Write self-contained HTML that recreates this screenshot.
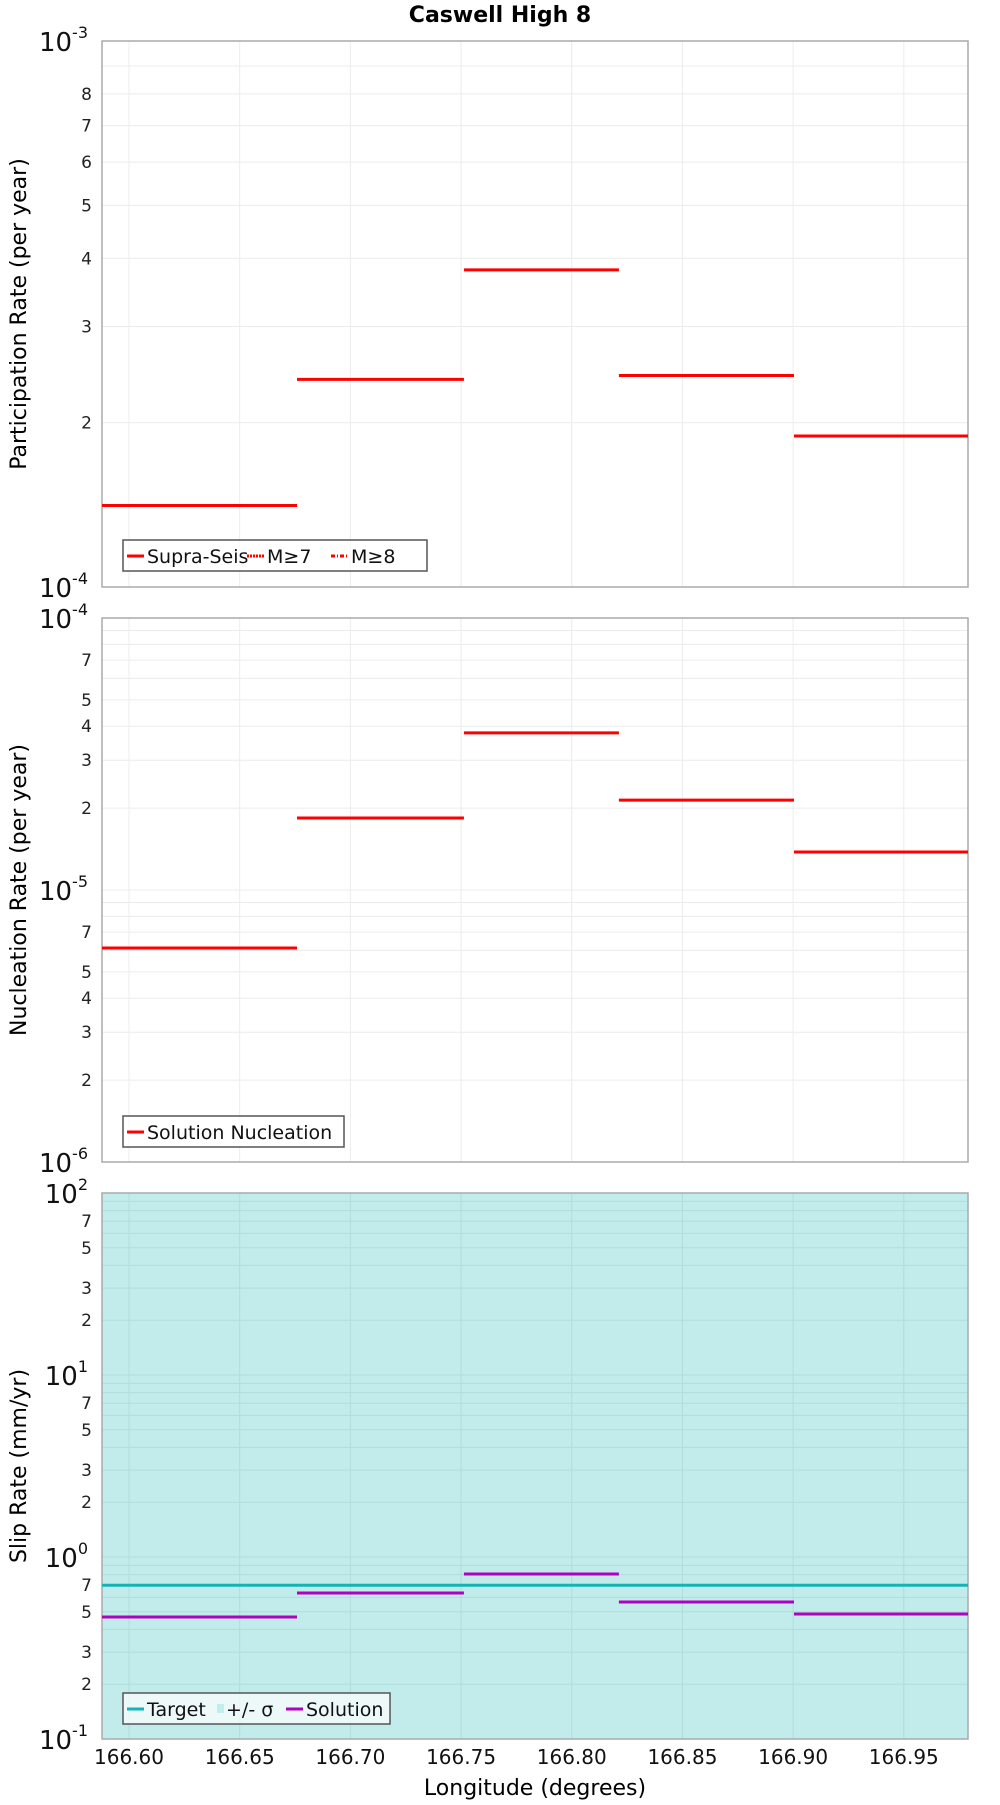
<!DOCTYPE html>
<html><head><meta charset="utf-8"><style>
body{margin:0;background:#fff;}
svg text{font-family:"DejaVu Sans","Liberation Sans",sans-serif;}
</style></head><body>
<svg id="chart" width="1000" height="1800" xmlns="http://www.w3.org/2000/svg"></svg>
<script>
const segEdges = [166.5878, 166.6759, 166.7513, 166.8213, 166.9004, 166.979];
const xTicks = [166.60, 166.65, 166.70, 166.75, 166.80, 166.85, 166.90, 166.95];
const partRates = [1.41e-4, 2.40e-4, 3.81e-4, 2.44e-4, 1.89e-4];
const nuclRates = [6.12e-6, 1.84e-5, 3.78e-5, 2.14e-5, 1.38e-5];
const slipSolution = [0.468, 0.634, 0.807, 0.566, 0.486];
const slipTarget = 0.70;

const NS = "http://www.w3.org/2000/svg";
const svg = document.getElementById('chart');
function mk(tag, attrs, parent){const e=document.createElementNS(NS,tag);for(const k in attrs)e.setAttribute(k,attrs[k]);(parent||svg).appendChild(e);return e;}
const L=102,R=968;
const xMin=segEdges[0], xMax=segEdges[segEdges.length-1];
function xs(v){return L+(v-xMin)/(xMax-xMin)*(R-L);}

const t=mk('text',{x:500,y:22,'text-anchor':'middle','font-size':22,'font-weight':'bold'});


t.textContent='Caswell High 8';

function panel(opt){
  const g=mk('g',{});
  
  
  const T=opt.top,B=opt.bottom,lo=opt.lo,hi=opt.hi;
  const ys=v=>B-(Math.log10(v)-lo)/(hi-lo)*(B-T);
  mk('rect',{x:L,y:T,width:R-L,height:B-T,fill:opt.bg||'#fff'},g);
  // grid
  for(let d=lo;d<hi;d++){for(let m=1;m<=9;m++){const v=m*Math.pow(10,d);const y=ys(v);
    if(y<T-0.5)continue;
    mk('line',{x1:L,x2:R,y1:y,y2:y,stroke:opt.grid,'stroke-width':1},g);
    if(m>1&&opt.minorLabels.includes(m)){const tx=mk('text',{x:L-10,y:y+6,'text-anchor':'end','font-size':17,fill:'#222'},g);
      
      
      tx.textContent=m;}
  }}
  for(let d=lo;d<=hi;d++){const y=ys(Math.pow(10,d));
    const tx=mk('text',{x:L-14,y:y+10,'text-anchor':'end','font-size':26,fill:'#111'},g);
    
    
    tx.textContent='10';
    const sp=mk('tspan',{dy:-13,'font-size':16},tx);sp.textContent=String(d);
  }
  xTicks.forEach(v=>{const x=xs(v);mk('line',{x1:x,x2:x,y1:T,y2:B,stroke:opt.grid,'stroke-width':1},g);});
  mk('rect',{x:L,y:T,width:R-L,height:B-T,fill:'none',stroke:'#aaa','stroke-width':1.5},g);
  const yt=mk('text',{x:0,y:0,'text-anchor':'middle','font-size':22,transform:`translate(26,${(T+B)/2}) rotate(-90)`},g);
  
  
  yt.textContent=opt.ytitle;
  if(opt.target!==undefined){const y=ys(opt.target);
    const ln=mk('line',{x1:L,x2:R,y1:y,y2:y,stroke:'#14b4b4','stroke-width':3},g);
    
    }
  opt.values.forEach((v,i)=>{const y=ys(v);
    const ln=mk('line',{x1:xs(segEdges[i]),x2:xs(segEdges[i+1]),y1:y,y2:y,stroke:opt.color,'stroke-width':3},g);
    
    });
  // legend
  const lg=mk('g',{},g);
  
  
  const ly=opt.legY;
  mk('rect',{x:123,y:ly,width:opt.legW,height:31,fill:'#fff','fill-opacity':0.7,stroke:'#555','stroke-width':1.5},lg);
  let x=127;
  opt.legend.forEach(it=>{
    if(it.kind==='box')mk('rect',{x:x,y:ly+11,width:7,height:9,fill:it.color},lg);
    else mk('line',{x1:x,x2:x+17,y1:ly+16,y2:ly+16,stroke:it.color,'stroke-width':3,'stroke-dasharray':it.dash||'none'},lg);
    x+=(it.kind==='box'?9:20);
    const tx=mk('text',{x:x,y:ly+23,'font-size':19,fill:'#111'},lg);
    
    
    tx.textContent=it.label;
    x+=it.w;
  });
}
panel({name:'participation-panel',top:41,bottom:587,lo:-4,hi:-3,grid:'#ececec',minorLabels:[2,3,4,5,6,7,8],
  ytitle:'Participation Rate (per year)',values:partRates,color:'#ff0000',legY:540,legW:304,
  legend:[{label:'Supra-Seis',color:'#f00',w:100},{label:'M≥7',color:'#f00',dash:'2,1',w:64},{label:'M≥8',color:'#f00',dash:'4,2,1,2',w:50}]});
panel({name:'nucleation-panel',top:618,bottom:1162,lo:-6,hi:-4,grid:'#ececec',minorLabels:[2,3,4,5,7],
  ytitle:'Nucleation Rate (per year)',values:nuclRates,color:'#ff0000',legY:1116,legW:221,
  legend:[{label:'Solution Nucleation',color:'#f00',w:200}]});
panel({name:'slip-rate-panel',top:1193,bottom:1739,lo:-1,hi:2,grid:'#b0dcda',bg:'#c2eceb',minorLabels:[2,3,5,7],
  ytitle:'Slip Rate (mm/yr)',values:slipSolution,color:'#b000c0',target:slipTarget,legY:1693,legW:267,
  legend:[{label:'Target',color:'#14b4b4',w:70},{label:'+/- σ',kind:'box',color:'#bfeeee',w:60},{label:'Solution',color:'#b000c0',w:80}]});
xTicks.forEach(v=>{const tx=mk('text',{x:xs(v),y:1764,'text-anchor':'middle','font-size':20,fill:'#111'});
  
  
  tx.textContent=v.toFixed(2);});
const xt=mk('text',{x:535,y:1795,'text-anchor':'middle','font-size':22});


xt.textContent='Longitude (degrees)';
</script>
</body></html>
